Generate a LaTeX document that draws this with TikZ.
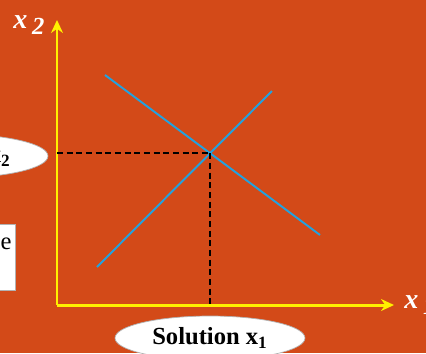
\documentclass[tikz,border=0pt]{standalone}
\usepackage{fontspec}
\setmainfont{Liberation Serif}
\usepackage{xcolor}
\definecolor{BackOrange}{RGB}{211,74,24}
\definecolor{LineBlue}{RGB}{34,162,224}
\definecolor{AxisYellow}{RGB}{255,240,0}
\usetikzlibrary{positioning, arrows.meta, shapes.geometric}

\newcommand{\lowsub}[1]{\,\raisebox{-0.45ex}{\fontsize{14}{16}\selectfont #1}}

\tikzset{
  axis/.style={AxisYellow, line width=1.7pt, -{Stealth[length=0.26cm, width=0.24cm]}},
  demand/.style={LineBlue, line width=1.1pt},
  guide/.style={black, line width=1.1pt, dash pattern=on 3.5pt off 2pt},
  oval/.style={ellipse, draw=gray!60, fill=white, minimum width=3.8cm, minimum height=0.88cm,
    inner sep=0pt, font=\fontsize{14}{16}\selectfont\bfseries},
  axislabel/.style={white, font=\fontsize{16}{18}\selectfont\bfseries\itshape}
}

\begin{document}
\begin{tikzpicture}[x=0.02cm, y=-0.02cm]
  \useasboundingbox (0,0) rectangle (426,353);
  \clip (0,0) rectangle (426,353);
  % Fondo / Background
  \fill[BackOrange] (0,0) rectangle (426,353);

  % Ejes / Axes
  \coordinate (origin) at (57,305);
  \coordinate (ytop) at (57,20);
  \coordinate (xend) at (394,305);
  \draw[axis] (origin) -- (ytop);
  \draw[axis] (origin) -- (xend);
  \node[axislabel, anchor=west, inner sep=0pt] (xtwo) at (13,25) {x\lowsub{2}};
  \node[axislabel, anchor=west, inner sep=0pt] (xone) at (404,305) {x\lowsub{1}};

  % Rectas / Lines
  \coordinate (a1) at (105,75);
  \coordinate (a2) at (320,235);
  \coordinate (b1) at (97,267);
  \coordinate (b2) at (272,91);
  \draw[demand] (a1) -- (a2);
  \draw[demand] (b1) -- (b2);
  \coordinate (sol) at (intersection of a1--a2 and b1--b2);

  % Guias / Guides
  \draw[guide] (origin |- sol) -- (sol);
  \draw[guide] (sol) -- (sol |- origin);

  % Etiquetas / Labels
  \node[oval] (solx) at (210,338) {Solution x\textsubscript{1}};
  \node[oval] (soly) at (-47,156) {Solution x\textsubscript{2}};
  \node[draw=gray!60, fill=white, anchor=north east, minimum width=1.6cm,
    minimum height=1.32cm] (side) at (16,224) {};
  \node[font=\fontsize{14}{16}\selectfont, anchor=north east, inner sep=0pt] (sidetext) at (12,238) {e};
\end{tikzpicture}
\end{document}
